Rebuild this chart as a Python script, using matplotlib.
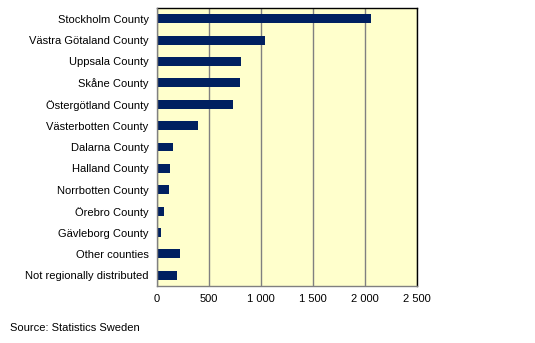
import matplotlib
matplotlib.use("Agg")
import matplotlib.pyplot as plt

categories = ["Stockholm County", "Västra Götaland County", "Uppsala County", "Skåne County",
              "Östergötland County", "Västerbotten County", "Dalarna County", "Halland County",
              "Norrbotten County", "Örebro County", "Gävleborg County", "Other counties",
              "Not regionally distributed"]
values = [2061, 1035, 805, 795, 728, 391, 151, 122, 112, 64, 35, 218, 189]
xticks = [0, 500, 1000, 1500, 2000, 2500]
xticklabels = ["0", "500", "1 000", "1 500", "2 000", "2 500"]

plt.rcParams['font.family'] = ['Liberation Sans', 'DejaVu Sans']

fig = plt.figure(figsize=(5.35, 3.43), dpi=100)
ax = fig.add_axes([0.2935, 0.1662, 0.7794 - 0.2935, 0.9767 - 0.1662])
ax.set_facecolor("#FFFFCC")
ypos = list(range(len(categories)))
ax.barh(ypos, values, height=0.42, color="#002060", zorder=3)
ax.set_ylim(len(categories) - 0.5, -0.5)
ax.set_xlim(0, 2500)
ax.set_xticks(xticks)
ax.set_xticklabels(xticklabels, fontsize=8)
ax.set_yticks(ypos)
ax.set_yticklabels(categories, fontsize=8)
ax.tick_params(axis='both', length=0)
ax.tick_params(axis='y', pad=6)
ax.tick_params(axis='x', pad=6)
ax.grid(axis='x', color="#808080", linewidth=1, zorder=1)
for s in ax.spines.values():
    s.set_color("black")
    s.set_linewidth(1)
ax.spines['left'].set_color("#808080")
ax.spines['bottom'].set_color("#808080")
ax.spines['left'].set_zorder(4)

fig.text(10 / 535, 1 - 328 / 343, "Source: Statistics Sweden", fontsize=8, va='center', ha='left')

fig.savefig("out.png", dpi=100)
